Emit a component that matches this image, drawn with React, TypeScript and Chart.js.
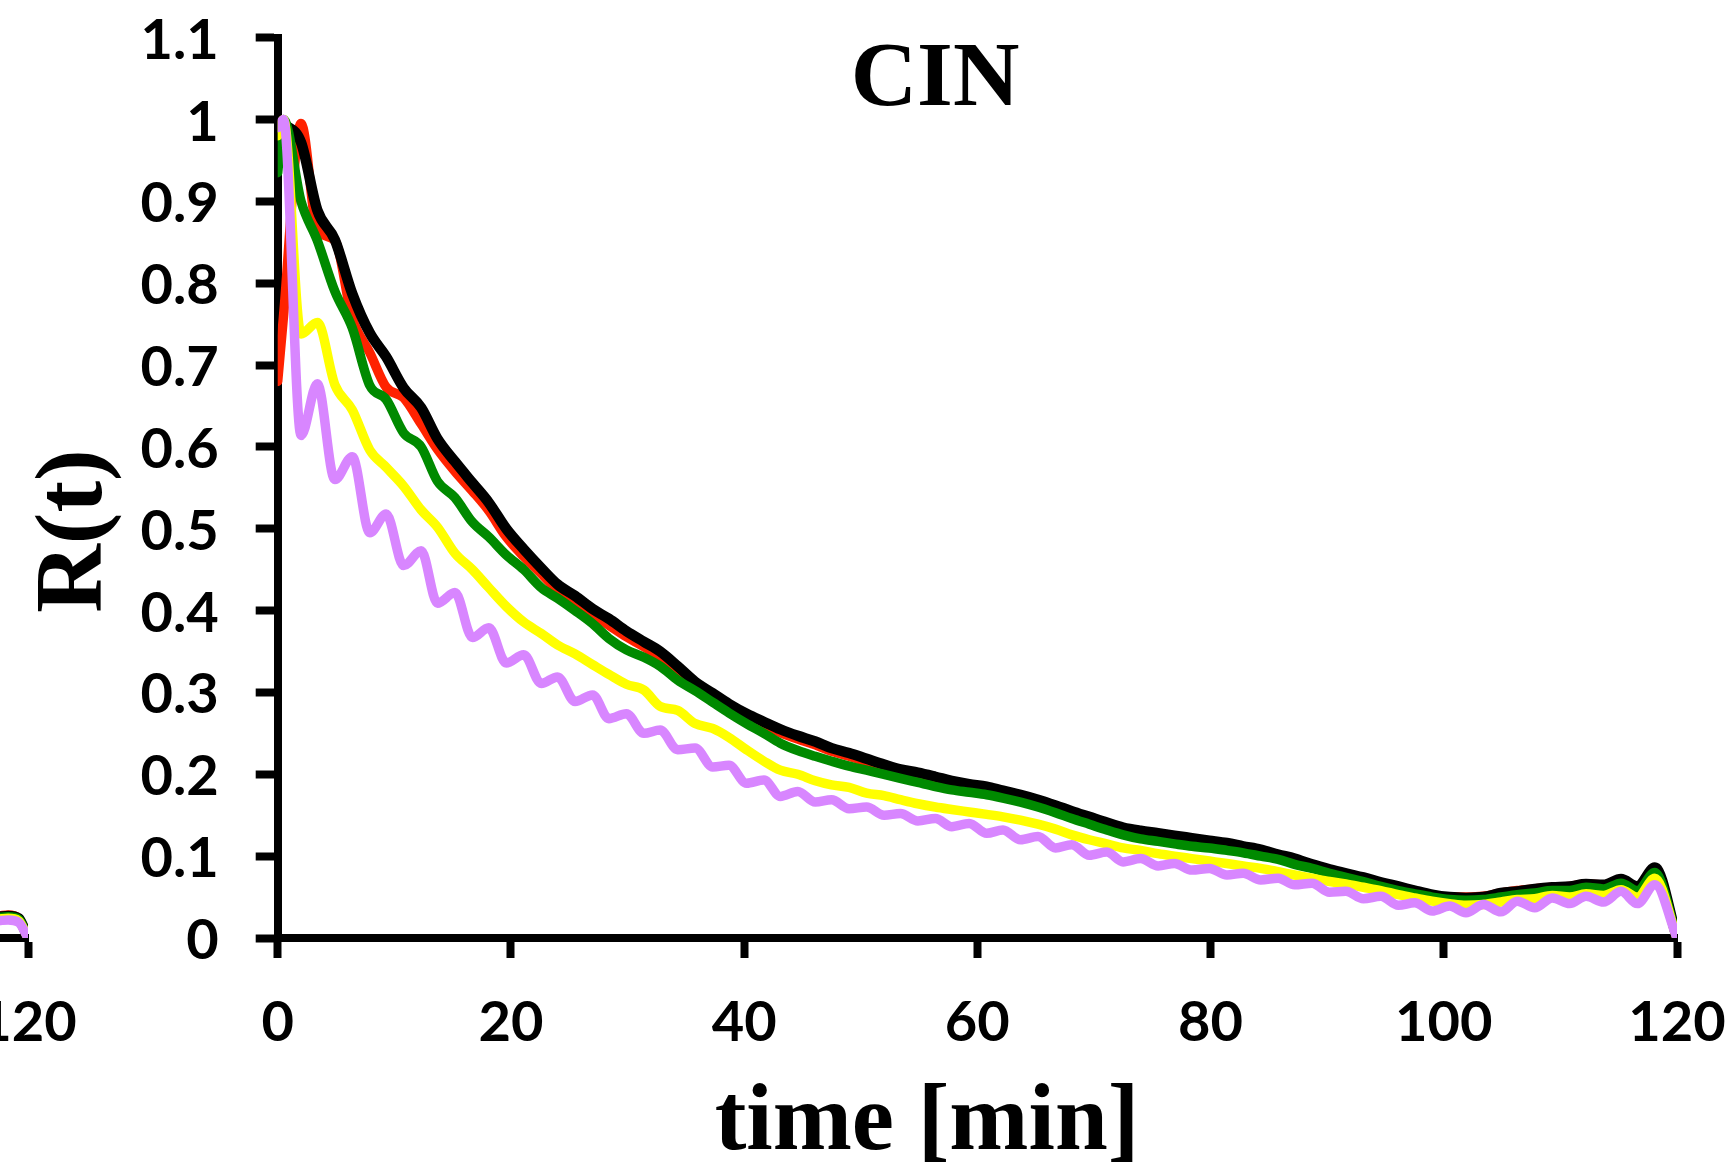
import React, { useEffect, useRef } from 'react';
import { Chart, registerables } from 'chart.js';

Chart.register(...registerables);

// ---- data ----
const chartTitle = 'CIN';
const xAxisTitle = 'time [min]';
const yAxisTitle = 'R(t)';

const xTickLabels = ['0', '20', '40', '60', '80', '100', '120'];
const yTickLabels = ['0', '0.1', '0.2', '0.3', '0.4', '0.5', '0.6', '0.7', '0.8', '0.9', '1', '1.1'];

const times = [0, 0.5, 2, 3.4, 4.9, 6.4, 7.9, 9.3, 10.8, 12.3,
  13.7, 15.2, 16.7, 18.1, 19.6, 21.1, 22.6, 24, 25.5, 27,
  28.4, 29.9, 31.4, 32.8, 34.3, 35.8, 37.3, 38.7, 40.2, 41.7,
  43.1, 44.6, 46.1, 47.5, 49, 50.5, 52, 53.4, 54.9, 56.4,
  57.8, 59.3, 60.8, 62.2, 63.7, 65.2, 66.7, 68.1, 69.6, 71.1,
  72.5, 74, 75.5, 76.9, 78.4, 79.9, 81.4, 82.8, 84.3, 85.8,
  87.2, 88.7, 90.2, 91.6, 93.1, 94.6, 96.1, 97.5, 99, 100.5,
  101.9, 103.4, 104.9, 106.3, 107.8, 109.3, 110.8, 112.2, 113.7, 115.2,
  116.6, 118.1, 120];

const violetSeries = [0.99, 1.0, 0.614, 0.677, 0.56, 0.588, 0.495, 0.518, 0.455, 0.473,
  0.409, 0.422, 0.367, 0.379, 0.336, 0.346, 0.311, 0.319, 0.289, 0.297,
  0.268, 0.274, 0.25, 0.254, 0.23, 0.232, 0.209, 0.211, 0.189, 0.193,
  0.173, 0.179, 0.166, 0.169, 0.158, 0.16, 0.15, 0.152, 0.143, 0.146,
  0.136, 0.14, 0.128, 0.132, 0.12, 0.124, 0.11, 0.114, 0.101, 0.105,
  0.093, 0.097, 0.088, 0.091, 0.083, 0.085, 0.077, 0.079, 0.071, 0.073,
  0.065, 0.067, 0.056, 0.057, 0.048, 0.051, 0.04, 0.043, 0.033, 0.039,
  0.031, 0.041, 0.032, 0.045, 0.037, 0.049, 0.042, 0.051, 0.044, 0.057,
  0.042, 0.065, 0];

const yellowSeries = [0.98, 1.0, 0.738, 0.752, 0.676, 0.645, 0.596, 0.575, 0.552, 0.523,
  0.502, 0.47, 0.45, 0.428, 0.405, 0.386, 0.372, 0.358, 0.347, 0.334,
  0.322, 0.31, 0.303, 0.283, 0.278, 0.262, 0.256, 0.245, 0.23, 0.216,
  0.205, 0.2, 0.192, 0.187, 0.184, 0.177, 0.174, 0.169, 0.164, 0.16,
  0.157, 0.154, 0.151, 0.148, 0.144, 0.139, 0.133, 0.126, 0.12, 0.115,
  0.11, 0.107, 0.103, 0.1, 0.097, 0.094, 0.091, 0.088, 0.085, 0.081,
  0.077, 0.073, 0.069, 0.066, 0.062, 0.058, 0.053, 0.049, 0.045, 0.042,
  0.04, 0.041, 0.044, 0.047, 0.048, 0.052, 0.05, 0.054, 0.052, 0.059,
  0.05, 0.073, 0];

const greenSeries = [0.935, 1.0, 0.9, 0.852, 0.79, 0.745, 0.675, 0.658, 0.617, 0.6,
  0.558, 0.538, 0.508, 0.49, 0.468, 0.45, 0.428, 0.415, 0.4, 0.384,
  0.366, 0.352, 0.343, 0.332, 0.315, 0.302, 0.288, 0.275, 0.262, 0.25,
  0.238, 0.229, 0.222, 0.216, 0.21, 0.205, 0.2, 0.195, 0.19, 0.185,
  0.181, 0.178, 0.175, 0.171, 0.166, 0.16, 0.153, 0.146, 0.139, 0.132,
  0.126, 0.121, 0.118, 0.115, 0.112, 0.11, 0.107, 0.104, 0.1, 0.096,
  0.09, 0.085, 0.079, 0.074, 0.069, 0.063, 0.058, 0.054, 0.05, 0.047,
  0.046, 0.047, 0.05, 0.053, 0.055, 0.058, 0.058, 0.062, 0.06, 0.067,
  0.058, 0.08, 0];

const blackSeries = [null, 0.995, 0.972, 0.889, 0.853, 0.787, 0.739, 0.71, 0.672, 0.648,
  0.61, 0.582, 0.556, 0.532, 0.5, 0.475, 0.452, 0.432, 0.418, 0.402,
  0.39, 0.375, 0.362, 0.35, 0.332, 0.313, 0.299, 0.286, 0.274, 0.264,
  0.255, 0.247, 0.24, 0.232, 0.226, 0.219, 0.212, 0.206, 0.202, 0.197,
  0.192, 0.188, 0.185, 0.18, 0.175, 0.169, 0.162, 0.155, 0.148, 0.141,
  0.135, 0.131, 0.128, 0.125, 0.122, 0.119, 0.116, 0.112, 0.108, 0.102,
  0.097, 0.09, 0.084, 0.079, 0.074, 0.068, 0.063, 0.058, 0.053, 0.05,
  0.049, 0.05, 0.055, 0.057, 0.06, 0.062, 0.063, 0.066, 0.065, 0.072,
  0.063, 0.086, 0];

const redSeries = [0.68, 0.76, 0.995, 0.865, 0.852, 0.757, 0.715, 0.673, 0.66, 0.628,
  0.597, 0.57, 0.546, 0.522, 0.49, 0.466, 0.445, 0.425, 0.41, 0.395,
  0.382, 0.368, 0.356, 0.343, 0.326, 0.308, 0.294, 0.282, 0.27, 0.26,
  0.251, 0.243, 0.236, 0.228, 0.222, 0.215, 0.208, 0.202, 0.198, 0.193,
  0.188, 0.184, 0.182, 0.177, 0.172, 0.166, 0.159, 0.152, 0.145, 0.138,
  0.132, 0.128, 0.125, 0.122, 0.119, 0.116, 0.113, 0.109, 0.105, 0.099,
  0.094, 0.088, 0.082, 0.077, 0.072, 0.066, 0.061, 0.056, 0.052, 0.05,
  0.05, 0.051, 0.055, 0.058, 0.06, 0.062, 0.063, 0.066, 0.065, 0.071,
  0.062, 0.084, 0];

// tail of the neighbouring (left) panel, only its last minutes are visible
const prevTimes = [116.5, 118.3, 119.2, 120];
const prevViolet = [0.019, 0.022, 0.019, 0];
const prevYellow = [0.021, 0.024, 0.021, 0];
const prevGreen = [0.023, 0.026, 0.023, 0];
const prevBlack = [0.024, 0.027, 0.024, 0];
const prevRed = [0.024, 0.028, 0.024, 0];

// ---- styling ----
const COLORS = {
  violet: '#D886FF',
  yellow: '#FFFF00',
  green: '#008A00',
  black: '#000000',
  red: '#FF2200',
};
const WIDTHS = { violet: 9.5, yellow: 9.5, green: 9.5, black: 10.5, red: 9.5 };

const TICK_FONT = { family: 'Lato, "Open Sans", sans-serif', weight: 'bold' as const, size: 56 };

function toPoints(xs: number[], ys: (number | null)[]) {
  return xs.map((x, i) => ({ x, y: ys[i] }));
}

function makeDatasets(xs: number[], s: { violet: any[]; yellow: any[]; green: any[]; black: any[]; red: any[] }) {
  // first dataset is drawn on top in Chart.js
  const order: (keyof typeof COLORS)[] = ['violet', 'yellow', 'green', 'black', 'red'];
  return order.map((key) => ({
    label: key,
    data: toPoints(xs, s[key]),
    borderColor: COLORS[key],
    backgroundColor: COLORS[key],
    borderWidth: WIDTHS[key],
    pointRadius: 0,
    fill: false,
    cubicInterpolationMode: 'monotone' as const,
    borderJoinStyle: 'round' as const,
    borderCapStyle: 'round' as const,
  }));
}

const titlesPlugin = {
  id: 'panelTitles',
  afterDraw(chart: any) {
    const ctx = chart.ctx as CanvasRenderingContext2D;
    ctx.save();
    ctx.fillStyle = '#000';
    ctx.textAlign = 'center';
    ctx.textBaseline = 'alphabetic';
    ctx.font = 'bold 92px "Liberation Serif", "Times New Roman", serif';
    ctx.fillText(chartTitle, 935, 105);
    ctx.font = 'bold 95px "Liberation Serif", "Times New Roman", serif';
    ctx.fillText(xAxisTitle, 927, 1149);
    ctx.translate(101, 531);
    ctx.rotate(-Math.PI / 2);
    ctx.font = 'bold 95px "Liberation Serif", "Times New Roman", serif';
    ctx.fillText(yAxisTitle, 0, 0);
    ctx.restore();
  },
};

function makeConfig(datasets: any[], withTitles: boolean): any {
  return {
    type: 'line',
    data: { datasets },
    options: {
      responsive: false,
      animation: false,
      events: [],
      layout: { padding: { left: 0, right: 56, top: 37.6, bottom: 0 } },
      plugins: {
        legend: { display: false },
        title: { display: false },
        tooltip: { enabled: false },
      },
      scales: {
        x: {
          type: 'linear',
          min: 0,
          max: 120,
          afterFit: (s: any) => {
            s.height = 233;
            s.paddingLeft = 0;
            s.paddingRight = 0;
          },
          grid: { drawOnChartArea: false, drawTicks: true, tickLength: 20, tickWidth: 8, tickColor: '#000' },
          border: { display: true, color: '#000', width: 8 },
          ticks: {
            stepSize: 20,
            autoSkip: false,
            maxRotation: 0,
            minRotation: 0,
            padding: 31,
            color: '#000',
            font: TICK_FONT,
            callback: (v: number) => xTickLabels[Math.round(v / 20)] ?? '',
          },
        },
        y: {
          type: 'linear',
          min: 0,
          max: 1.1,
          afterFit: (s: any) => {
            s.width = 277.7;
            s.paddingTop = 0;
            s.paddingBottom = 0;
          },
          grid: { drawOnChartArea: false, drawTicks: true, tickLength: 22, tickWidth: 8, tickColor: '#000' },
          border: { display: true, color: '#000', width: 8 },
          ticks: {
            stepSize: 0.1,
            autoSkip: false,
            padding: 37,
            labelOffset: 3,
            color: '#000',
            font: TICK_FONT,
            callback: (v: number) => yTickLabels[Math.round(v * 10)] ?? '',
          },
        },
      },
    },
    plugins: withTitles ? [titlesPlugin] : [],
  };
}

export default function App() {
  const mainRef = useRef<HTMLCanvasElement>(null);
  const prevRef = useRef<HTMLCanvasElement>(null);

  useEffect(() => {
    const main = new Chart(
      mainRef.current as HTMLCanvasElement,
      makeConfig(
        makeDatasets(times, {
          violet: violetSeries,
          yellow: yellowSeries,
          green: greenSeries,
          black: blackSeries,
          red: redSeries,
        }),
        true
      )
    );
    const prev = new Chart(
      prevRef.current as HTMLCanvasElement,
      makeConfig(
        makeDatasets(prevTimes, {
          violet: prevViolet,
          yellow: prevYellow,
          green: prevGreen,
          black: prevBlack,
          red: prevRed,
        }),
        false
      )
    );
    return () => {
      main.destroy();
      prev.destroy();
    };
  }, []);

  return (
    <div style={{ position: 'absolute', left: 0, top: 0, width: 1733, height: 1171, overflow: 'hidden', background: '#fff' }}>
      <canvas ref={prevRef} width={1733} height={1171} style={{ position: 'absolute', left: -1649, top: 0 }} />
      <canvas ref={mainRef} width={1733} height={1171} style={{ position: 'absolute', left: 0, top: 0 }} />
    </div>
  );
}
